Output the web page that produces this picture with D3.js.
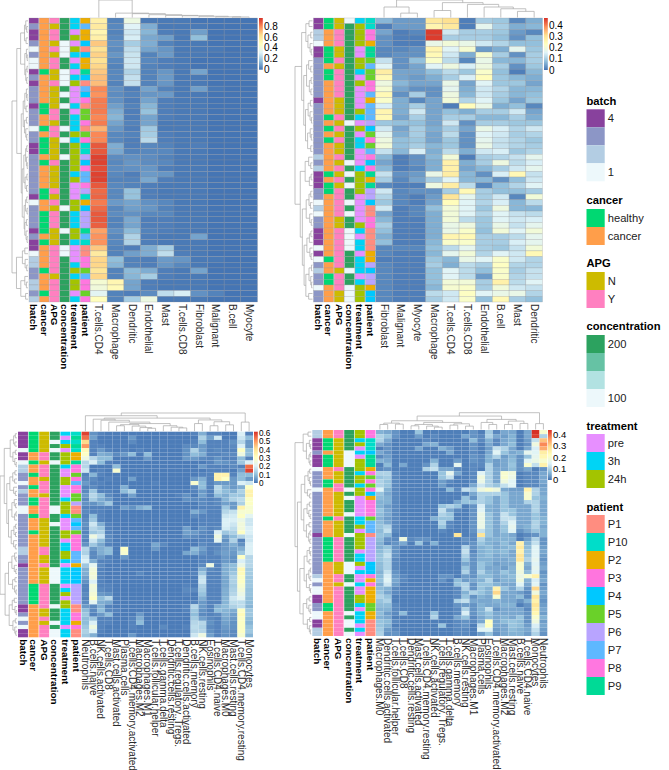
<!DOCTYPE html>
<html>
<head>
<meta charset="utf-8">
<script src="https://cdn.jsdelivr.net/npm/d3@7"></script>
<style>
  html, body { margin: 0; padding: 0; background: #fff; }
  svg { display: block; }
  text { font-family: "Liberation Sans", Arial, sans-serif; }
</style>
</head>
<body>
<div id="chart"></div>
<script>
// annotation categories
const annotationNames = ['batch', 'cancer', 'APG', 'concentration', 'treatment', 'patient'];
const batchLevels = ['1', '2', '3', '4'];
const cancerLevels = ['healthy', 'cancer'];
const apgLevels = ['N', 'Y'];
const concentrationLevels = ['200', '167', '133', '100'];
const treatmentLevels = ['pre', '3h', '24h'];
const patientLevels = ['P1', 'P10', 'P2', 'P3', 'P4', 'P5', 'P6', 'P7', 'P8', 'P9'];

const batchColors = ['#edf8fb', '#b3cde3', '#8c96c6', '#88419d'];
const cancerColors = ['#00d872', '#ff9e4a'];
const apgColors = ['#cdbb00', '#ff80c0'];
const concentrationColors = ['#2ca25f', '#66c2a4', '#b2e2e2', '#edf8fb'];
const treatmentColors = ['#e78fff', '#00d4f5', '#a3c400'];
const patientColors = ['#ff8d80', '#00ddc9', '#edae00', '#ff75de', '#00c8ff', '#6ad129', '#b8a4ff', '#5eb8ff', '#ff77e0', '#00da96'];
const heatPalette = ['#4575b4', '#91bfdb', '#e0f3f8', '#ffffbf', '#fee090', '#fc8d59', '#d73027'];

// top left panel
const p1Cols = ['T.cells.CD4', 'Macrophage', 'Dendritic', 'Endothelial', 'Mast', 'T.cells.CD8', 'Fibroblast', 'Malignant', 'B.cell', 'Myocyte'];
const p1Batch = [4,3,4,4,3,1,3,1,1,4, 3,4,3,3,3,4,3,3,3,1, 3,3,4,4,3,3,3,3,3,3, 3,4,1,3,3,3,3,4,3,4, 4,1,2,2,3,3,2,2,3,2];
const p1Cancer = [1,1,1,1,1,1,1,1,1,0, 1,1,1,1,1,0,0,1,1,0, 1,0,0,0,1,0,1,1,1,1, 0,0,1,1,0,0,0,0,1,0, 1,1,1,1,0,1,1,1,0,1];
const p1Apg = [1,0,1,1,0,1,0,1,1,0, 0,1,0,0,0,0,1,1,0,1, 1,0,0,0,0,1,0,0,0,0, 1,0,1,0,1,1,1,0,0,0, 1,1,1,1,1,0,1,1,1,1];
const p1Conc = [0,0,0,0,3,3,3,0,0,3, 3,3,0,3,0,3,0,0,0,3, 0,3,0,0,3,0,0,0,0,0, 0,0,0,3,0,0,0,3,0,0, 3,3,0,0,0,0,0,0,0,0];
const p1Treatment = [1,1,0,2,0,2,1,0,1,0, 1,2,0,0,0,1,0,1,1,1, 2,1,2,2,2,2,2,1,2,0, 0,0,2,2,1,1,1,2,2,1, 0,0,0,1,2,1,2,2,0,1];
const p1Patient = [2,7,2,2,4,0,4,2,2,9, 4,0,7,4,8,0,5,5,8,0, 5,8,1,1,6,4,8,7,7,8, 6,1,2,4,6,6,6,9,7,1, 0,0,8,8,5,7,8,8,5,8];
const p1Heat = [
  [55,58,52,55,68,62,66,62,65,68, 70,70,80,78,82,82,82,80,82,72, 80,80,88,88,92,92,90,92,92,88, 85,86,82,85,88,88,87,75,78,78, 68,58,65,65,60,65,42,40,33,48],
  [3,4,3,4,6,5,7,4,3,4, 4,3,6,5,6,9,12,14,10,7, 4,4,12,11,5,4,5,4,3,4, 4,4,8,4,5,3,3,6,4,4, 3,3,16,14,3,3,52,50,3,3],
  [38,32,28,30,20,25,27,28,28,22, 26,26,2,3,2,3,2,2,3,2, 3,2,2,3,6,7,6,2,3,3, 17,17,10,9,6,11,10,15,22,22, 2,9,3,3,15,14,10,10,2,20],
  [1,12,14,11,12,10,3,4,3,3, 3,3,10,7,10,14,17,10,10,19, 20,24,4,4,5,5,7,8,11,2, 2,2,6,7,4,2,2,3,2,2, 12,12,2,2,12,20,2,2,5,38],
  [1,1,2,9,3,7,8,2,2,7, 8,7,3,8,2,2,2,2,1,1, 2,2,3,4,3,4,2,7,2,1, 1,1,4,3,4,2,2,2,1,1, 20,25,8,7,2,2,1,1,25,1],
  [1,1,1,1,1,1,1,1,1,1, 1,1,1,1,1,1,1,1,1,1, 1,1,1,1,1,1,1,1,1,1, 1,1,1,1,1,1,1,1,1,1, 1,2,7,4,1,1,1,1,30,1],
  [0,1,9,16,1,1,1,0,0,10, 1,1,9,1,1,1,1,1,1,1, 1,1,2,1,1,1,1,1,1,1, 1,1,1,1,1,1,1,1,10,1, 1,1,1,1,10,1,1,1,6,1],
  [0,0,0,0,0,1,0,0,0,0, 0,0,1,0,0,0,0,0,0,0, 0,0,0,0,0,0,0,0,0,0, 0,0,0,0,0,0,0,0,0,0, 0,0,1,0,0,0,0,0,3,0],
  [0,0,0,0,0,0,0,0,0,0, 0,0,0,0,0,0,0,0,0,0, 0,0,0,0,0,0,0,0,0,0, 0,0,0,0,0,0,0,0,0,0, 0,0,0,0,0,0,0,0,0,0],
  [0,0,0,0,0,0,0,0,0,0, 0,0,0,0,0,0,0,0,0,0, 0,0,0,0,0,0,0,0,0,0, 0,0,0,0,0,0,0,0,0,0, 0,0,0,0,0,0,0,0,0,0]
];
const p1RowTree = [1,
  [.7,
    [.46,[.22,[.14,0,[.08,0,0]],[.12,0,0]],[.2,[.1,0,[.05,0,0]],[.14,[.06,0,0],[.08,0,0]]]],
    [.42,[.3,[.2,[.1,0,[.06,0,0]],[.12,0,0]],[.22,[.1,0,0],[.14,0,[.08,0,0]]]],
      [.36,[.26,[.15,[.08,0,0],[.1,0,[.05,0,0]]],[.18,[.07,0,0],[.09,0,0]]],[.24,[.16,[.08,0,0],[.06,0,0]],[.2,[.1,0,0],[.12,0,[.06,0,0]]]]]]],
  [.72,[.35,[.2,0,0],[.18,0,[.08,0,0]]],[.45,[.2,0,[.1,0,0]],[.15,0,0]]]];
const p1ColTree = [1,0,[.25,0,[.22,0,[.16,0,[.12,0,[.1,0,[.07,0,[.04,0,[.03,0,0]]]]]]]]];

// top right panel
const p2Cols = ['Fibroblast', 'Malignant', 'Myocyte', 'Macrophage', 'T.cells.CD4', 'T.cells.CD8', 'Endothelial', 'B.cell', 'Mast', 'Dendritic'];
const p2Batch = [4,4,2,2,1,4,4,3,3,3, 3,3,3,3,4,3,3,3,3,3, 3,3,3,3,2,3,2,4,4,4, 3,3,1,2,1,3,3,4,4,4, 1,4,1,3,2,3,3,1,3,3];
const p2Cancer = [0,0,1,1,1,0,0,0,1,0, 0,1,1,1,1,1,1,0,1,0, 1,0,1,1,1,1,1,0,1,0, 0,1,1,1,1,1,1,1,1,1, 1,1,0,1,1,0,0,1,1,1];
const p2Apg = [0,0,1,1,1,0,0,1,0,1, 1,1,1,1,0,0,0,1,0,1, 0,1,0,0,1,0,1,0,1,0, 1,1,1,1,1,0,0,1,1,1, 1,1,1,1,0,1,1,1,0,0];
const p2Conc = [3,0,0,0,0,0,0,0,0,0, 0,0,0,0,0,0,0,0,3,0, 0,0,0,0,0,3,0,3,0,3, 0,0,3,0,3,0,0,3,3,3, 3,0,0,0,3,0,0,3,3,3];
const p2Treatment = [1,2,2,2,2,0,0,2,2,1, 0,2,0,0,0,0,2,1,0,2, 0,1,1,0,0,0,1,2,2,2, 2,0,0,0,0,0,2,1,0,1, 1,0,1,1,1,0,1,2,2,2];
const p2Patient = [1,1,8,8,2,9,9,5,7,5, 5,3,8,7,2,7,7,7,6,4, 5,3,5,7,3,4,3,9,2,9, 6,6,4,0,0,3,3,0,0,0, 0,2,2,6,4,6,6,2,4,4];
const p2Heat = [
  [7,1,5,3,3,2,2,13,16,28, 25,19,21,25,22,15,26,25,9,14, 17,19,20,13,7,5,7,13,10,2, 14,11,9,14,5,7,10,8,6,8, 2,2,1,2,2,2,2,2,2,2],
  [4,4,1,1,1,2,3,3,3,5, 5,7,5,3,6,6,6,5,8,5, 6,8,8,7,1,1,1,3,2,1, 2,2,2,1,1,1,1,1,1,1, 2,1,1,1,1,1,1,1,1,1],
  [4,4,2,1,1,3,3,8,5,5, 4,5,3,10,2,10,14,10,8,10, 10,9,10,15,3,3,2,4,5,1, 3,1,1,2,2,1,1,1,1,1, 2,1,1,1,1,1,1,1,1,1],
  [29,26,46,46,18,26,25,22,16,8, 6,5,3,3,5,5,5,5,5,6, 5,5,7,6,7,6,6,18,10,19, 3,4,5,8,6,6,6,6,6,7, 8,7,9,10,8,8,8,7,12,10],
  [31,29,14,10,20,16,14,12,19,12, 10,18,17,19,20,1,8,10,14,10, 12,9,9,12,20,27,27,28,16,28, 10,30,24,20,20,20,18,18,26,22, 12,17,7,6,16,16,20,21,14,14],
  [1,1,10,10,18,21,6,2,15,9, 15,5,6,7,11,24,6,10,3,5, 3,3,3,6,1,6,5,7,7,12, 25,17,16,16,16,12,19,22,25,22, 17,20,18,12,12,12,20,22,23,22],
  [10,17,10,10,14,4,21,18,19,22, 24,16,14,14,16,18,10,7,10,18, 16,17,18,14,10,10,7,3,7,2, 10,10,11,9,11,9,9,8,10,10, 10,11,16,10,8,4,10,10,16,8],
  [9,10,9,8,11,6,10,7,10,8, 9,9,11,10,9,6,10,7,10,15, 14,13,13,15,11,19,10,15,3,8, 8,14,15,19,16,16,18,20,10,10, 9,16,22,23,22,22,27,20,18,25],
  [2,6,4,3,8,17,3,7,3,1, 7,9,7,7,5,8,14,10,9,11, 10,11,11,9,13,12,14,25,8,11, 8,2,7,7,13,14,13,16,12,15, 13,14,14,11,10,11,12,14,18,10],
  [6,7,2,8,8,9,10,10,9,7, 6,5,7,8,9,2,5,6,9,14, 11,9,10,11,17,15,17,13,14,16, 10,20,12,7,12,15,17,20,17,17, 20,25,11,11,13,13,16,13,11,8]
];
const p2RowTree = [1,
  [.62,[.38,[.2,0,0],[.26,[.1,0,0],[.14,0,[.07,0,0]]]],
    [.5,[.34,[.22,0,[.1,0,0]],[.18,[.08,0,0],[.09,0,0]]],[.4,[.25,[.12,0,0],[.14,0,[.06,0,0]]],[.28,[.13,0,[.07,0,0]],[.1,0,0]]]]],
  [.7,[.42,[.22,0,[.1,0,0]],[.18,[.08,0,0],0]],
    [.58,[.36,[.2,[.1,0,0],[.12,0,0]],[.16,0,[.07,0,0]]],
      [.48,[.32,[.18,[.09,0,0],0],[.15,0,[.08,0,0]]],[.38,[.2,[.06,0,0],[.1,0,[.05,0,0]]],[.22,0,0]]]]]];
const p2ColTree = [1,[.6,0,[.25,0,0]],[.85,[.4,0,0],[.75,0,[.6,0,[.5,0,[.35,0,0]]]]]];

// bottom left panel
const p3Cols = ['Neutrophils', 'B.cells.naive', 'NK.cells.activated', 'T.cells.CD8', 'Mast.cells.activated', 'Plasma.cells', 'T.cells.CD4.memory.activated', 'Macrophages.M2', 'Macrophages.M1', 'T.cells.follicular.helper', 'T.cells.gamma.delta', 'Dendritic.cells.resting', 'T.cells.regulatory..Tregs.', 'Dendritic.cells.activated', 'B.cells.memory', 'NK.cells.resting', 'Eosinophils', 'T.cells.CD4.naive', 'Macrophages.M0', 'Mast.cells.resting', 'T.cells.CD4.memory.resting', 'Monocytes'];
const p3Batch = [4,4,4,4,1,4,4,1,2,2, 3,3,1,3,2,3,3,3,1,1, 3,3,3,3,3,3,3,3,2,2, 3,3,4,3,3,3,3,3,3,3, 3,3,4,4,3,1,3,1,4,4];
const p3Cancer = [0,0,0,0,0,1,1,0,1,1, 0,1,1,0,1,1,0,0,1,1, 0,1,1,1,0,1,1,1,1,1, 1,1,1,1,1,1,1,0,0,0, 0,0,1,1,1,1,1,1,1,1];
const p3Apg = [0,0,0,0,0,1,1,0,1,1, 1,0,1,1,1,0,1,1,1,1, 1,0,0,0,0,0,0,0,1,1, 0,0,1,0,0,0,0,1,1,1, 1,1,1,0,0,1,0,1,1,1];
const p3Conc = [0,0,3,0,3,0,0,3,0,0, 0,0,0,0,0,0,0,0,3,3, 0,0,3,0,0,0,0,0,0,0, 0,0,0,3,3,3,3,0,0,0, 0,0,3,0,0,0,3,0,3,3];
const p3Treatment = [1,0,1,2,0,2,2,2,1,0, 0,2,2,0,0,0,1,2,2,2, 1,0,0,0,2,2,0,1,1,2, 2,1,0,1,1,1,1,0,1,2, 0,2,2,1,1,1,1,0,1,1];
const p3Patient = [1,9,1,9,1,2,2,9,3,8, 5,3,7,8,8,5,5,6,0,0, 5,7,4,7,5,3,3,3,3,7, 7,7,2,4,4,4,4,6,6,6, 6,6,0,0,3,3,2,8,0,0];
const p3Heat = [
  [60,55,42,50,33,30,25,15,15,18, 2,3,5,2,3,5,3,4,2,3, 2,3,4,3,2,3,2,4,15,14, 18,20,12,8,8,6,4,2,2,3, 2,3,5,10,12,10,10,12,14,12],
  [4,6,2,2,2,2,15,20,1,1, 9,3,2,3,12,15,13,4,2,2, 10,12,18,15,12,25,18,12,5,3, 3,8,22,26,27,26,20,26,25,27, 30,22,3,3,2,12,20,25,20,8],
  [2,1,1,2,5,8,10,10,1,2, 2,1,2,1,2,10,8,7,2,2, 2,2,8,12,14,18,10,7,8,8, 5,2,3,2,2,2,2,2,3,5, 10,8,8,10,5,2,2,2,2,1],
  [1,1,1,1,2,7,10,2,1,1, 1,2,1,1,2,3,5,12,2,1, 1,1,2,2,2,3,3,2,10,10, 2,2,1,1,1,1,1,2,2,4, 15,7,2,3,10,2,2,1,1,1],
  [1,1,1,1,1,3,1,1,10,28, 1,1,1,1,1,1,1,1,1,1, 1,1,1,1,1,1,1,1,1,1, 1,1,1,1,1,1,1,1,1,1, 1,1,1,2,1,1,1,1,1,1],
  [1,1,1,1,2,5,1,1,1,1, 1,1,1,8,10,1,1,1,6,1, 1,1,1,1,1,1,1,1,30,28, 5,1,1,1,1,1,1,1,1,1, 1,1,1,1,1,1,1,1,1,1],
  [1,5,3,1,1,10,1,1,1,1, 1,6,1,1,14,6,1,1,4,1, 1,1,1,1,1,1,1,1,1,1, 1,1,1,1,1,1,1,1,1,1, 1,1,1,1,1,2,2,2,1,5],
  [1,1,1,1,2,1,1,1,1,1, 1,1,1,1,1,1,1,1,8,1, 1,1,1,1,1,1,1,1,1,1, 1,1,1,1,3,1,1,1,1,1, 1,1,1,1,5,8,10,1,1,1],
  [1,1,1,1,1,10,5,1,1,1, 1,1,1,1,1,1,1,1,10,1, 1,1,1,1,1,1,1,1,1,1, 1,1,1,1,1,1,1,1,1,1, 1,1,1,1,1,1,1,1,1,1],
  [1,1,1,1,1,1,1,1,1,1, 1,1,2,1,1,1,1,1,1,1, 1,1,1,1,1,1,1,7,5,1, 1,1,1,1,1,1,1,1,1,1, 1,1,1,1,1,1,1,1,1,1],
  [1,1,1,1,1,1,1,1,1,1, 1,1,1,1,1,1,1,1,1,1, 1,1,1,1,1,1,1,3,1,1, 1,1,1,1,1,1,1,1,1,1, 1,1,1,1,1,1,1,3,1,1],
  [1,1,1,1,1,1,1,1,1,1, 1,1,1,1,1,1,1,1,1,1, 1,1,1,1,1,1,1,1,1,1, 1,1,1,1,1,1,1,1,1,1, 1,1,1,1,1,1,1,1,1,1],
  [1,1,1,1,1,1,1,1,1,1, 1,1,1,1,1,2,1,1,1,1, 1,1,1,1,1,1,1,1,1,1, 1,1,1,1,1,1,1,1,1,1, 1,1,1,1,1,1,1,1,1,1],
  [1,1,1,3,4,4,5,1,1,1, 1,1,1,1,1,4,4,1,1,1, 1,1,1,6,6,4,1,1,1,7, 1,1,1,1,1,1,1,2,3,2, 1,1,2,2,1,1,1,2,1,1],
  [2,1,2,3,14,10,5,1,1,1, 1,5,28,3,2,1,3,1,1,8, 3,1,1,1,5,3,1,1,10,8, 1,1,1,1,2,1,1,1,3,1, 1,2,15,12,10,13,15,16,15,18],
  [8,14,10,5,6,8,3,1,5,1, 2,8,10,10,5,6,3,3,2,5, 2,2,2,4,3,2,2,3,6,4, 2,2,3,8,12,17,18,14,13,11, 8,5,5,4,3,6,15,14,15,25],
  [2,6,2,2,2,2,2,2,2,2, 2,2,2,2,2,2,2,2,2,2, 2,2,2,2,2,2,2,2,2,2, 2,2,25,3,2,2,2,2,2,2, 2,2,2,2,2,3,4,3,4,6],
  [2,18,2,2,3,2,4,5,2,2, 35,35,5,15,14,10,3,3,2,2, 2,2,2,3,20,25,22,2,3,4, 2,2,2,2,2,2,2,2,2,2, 2,2,8,10,3,2,2,2,2,2],
  [1,1,2,2,2,3,2,4,2,2, 35,30,5,8,10,8,9,6,12,15, 18,20,20,19,12,6,4,5,5,6, 5,5,8,8,8,7,7,7,8,8, 9,9,10,9,8,7,6,5,4,4],
  [1,1,4,3,2,3,2,3,3,1, 2,5,5,5,8,12,14,5,5,17, 19,20,18,16,14,10,14,8,6,5, 4,4,10,10,12,14,14,13,14,15, 18,16,14,8,6,5,4,4,3,3],
  [20,18,15,20,30,25,10,12,2,6, 10,10,20,8,14,12,16,14,35,28, 30,24,26,26,30,15,2,4,8,12, 30,20,24,33,32,30,30,28,26,24, 22,16,16,30,32,30,30,30,30,28],
  [2,10,5,5,10,10,2,20,55,60, 10,5,18,30,35,35,30,30,28,28, 22,18,18,20,20,18,18,20,20,20, 15,15,15,13,13,12,12,12,11,11, 10,10,9,12,12,10,9,11,12,9]
];
const p3RowTree = [1,
  [.75,[.4,[.2,[.1,0,0],[.12,0,0]],[.24,[.1,0,0],[.13,0,[.05,0,0]]]],
    [.6,[.42,[.25,[.12,0,0],[.14,0,0]],[.2,0,[.1,0,0]]],
      [.5,[.3,[.16,0,[.08,0,0]],[.14,[.06,0,0],0]],[.34,[.18,[.08,0,0],[.09,0,0]],[.2,0,[.1,0,0]]]]]],
  [.7,[.5,[.3,[.14,0,[.07,0,0]],[.16,0,[.07,0,0]]],[.26,[.12,0,0],[.14,0,[.06,0,0]]]],
    [.46,[.28,[.16,0,0],[.12,0,[.05,0,0]]],[.24,[.1,0,0],[.13,0,[.07,0,0]]]]]];
const p3ColTree = [1,[.85,0,[.72,[.66,0,[.6,0,[.5,0,[.42,[.36,[.3,0,0],[.28,0,[.2,0,[.16,0,0]]]],[.3,0,[.22,0,[.18,0,0]]]]]]],[.62,[.42,0,0],[.52,[.3,0,0],[.35,0,0]]]]],[.5,0,0]];

// bottom right panel
const p4Cols = ['Macrophages.M0', 'Dendritic.cells.activated', 'T.cells.follicular.helper', 'T.cells.CD8', 'Dendritic.cells.resting', 'Mast.cells.activated', 'T.cells.CD4.memory.resting', 'NK.cells.activated', 'T.cells.regulatory..Tregs.', 'T.cells.gamma.delta', 'B.cells.memory', 'NK.cells.resting', 'Macrophages.M1', 'Plasma.cells', 'Eosinophils', 'T.cells.CD4.memory.activated', 'Macrophages.M2', 'Mast.cells.resting', 'B.cells.naive', 'T.cells.CD4.naive', 'Monocytes', 'Neutrophils'];
const p4Batch = [2,2,4,4,4,3,4,4,4,1, 3,3,3,3,1,3,3,3,3,3, 3,3,3,3,3,4,3,3,3,3, 3,3,3,3,3,2,1,3,1,1, 4,4,3,3,1,1,4,4,2,2];
const p4Cancer = [1,1,0,0,0,1,0,0,0,1, 1,1,0,0,1,1,1,1,1,1, 1,0,1,1,1,1,0,0,0,0, 0,0,1,1,1,1,1,1,1,1, 1,1,0,0,1,1,1,1,1,1];
const p4Apg = [1,1,0,0,0,0,0,0,0,1, 0,0,0,1,1,0,0,0,0,0, 0,1,0,0,0,0,1,1,1,1, 1,1,0,0,0,1,1,0,1,1, 1,1,1,1,1,1,1,1,1,1];
const p4Conc = [0,0,0,0,0,3,3,3,3,0, 0,0,0,0,3,0,3,0,0,0, 3,0,0,0,0,3,0,0,0,0, 0,0,3,3,3,0,0,3,0,0, 0,0,0,0,3,0,3,3,0,3];
const p4Treatment = [2,2,1,2,0,1,0,2,2,2, 1,2,2,1,2,2,0,0,0,0, 0,1,1,2,0,2,2,2,2,0, 1,1,2,0,1,0,0,1,0,0, 2,2,1,0,1,1,1,0,1,0];
const p4Patient = [8,8,1,1,1,4,9,9,9,2, 3,5,3,5,8,4,2,8,8,8, 8,5,7,7,7,0,6,6,6,6, 6,6,4,4,4,3,2,8,2,2, 2,2,5,5,2,2,0,0,0,0];
const p4Heat = [
  [6,10,10,5,1,5,2,6,1,2, 10,8,10,10,15,8,7,6,6,8, 7,6,7,8,7,8,7,6,6,7, 8,8,7,7,6,7,8,6,7,8, 10,8,7,6,7,6,8,8,9,10],
  [5,8,5,3,3,3,4,5,7,3, 10,9,8,8,6,5,6,6,4,5, 5,4,5,10,12,7,3,2,8,10, 12,10,10,10,12,14,15,13,6,5, 8,10,7,6,4,5,7,6,4,3],
  [3,3,1,1,1,1,1,1,1,1, 2,2,2,2,2,2,2,2,2,2, 2,2,2,2,2,1,2,3,3,3, 3,2,2,2,3,4,5,4,2,2, 1,1,2,2,2,1,2,1,2,3],
  [1,1,1,1,1,1,1,1,5,1, 1,1,1,1,1,1,1,1,1,1, 1,1,1,1,1,1,18,5,1,1, 1,1,1,1,1,2,2,1,1,1, 1,1,1,1,7,1,1,1,1,1],
  [1,1,1,1,1,1,1,1,1,1, 1,1,1,1,1,1,1,1,1,1, 1,1,1,1,1,1,2,1,1,1, 1,1,1,1,1,1,1,1,1,1, 1,1,1,1,1,1,1,1,1,1],
  [8,4,1,1,5,1,1,1,1,1, 1,1,1,1,1,1,1,1,1,1, 1,1,1,1,1,1,3,8,1,1, 1,1,1,1,1,1,1,1,1,1, 1,1,1,1,1,1,1,1,1,1],
  [1,1,2,5,1,1,1,1,3,10, 1,1,1,1,1,1,1,1,1,1, 1,1,1,1,1,1,3,1,1,1, 1,1,1,1,1,1,1,1,1,1, 1,1,1,1,1,1,1,1,1,1],
  [1,2,1,6,1,1,1,6,10,12, 1,1,1,1,1,1,1,1,1,1, 1,6,1,1,1,1,1,6,1,1, 1,1,1,1,1,1,1,1,1,1, 1,1,1,1,8,10,1,1,1,1],
  [1,1,1,1,6,1,1,1,1,5, 8,8,4,4,1,1,1,1,8,12, 10,8,10,8,2,1,1,1,1,1, 1,1,1,1,1,3,3,1,1,1, 1,1,1,1,1,1,1,8,1,1],
  [1,1,1,1,4,5,1,1,1,5, 16,12,2,1,7,1,1,1,10,5, 8,8,2,2,1,1,1,1,1,1, 1,1,1,1,1,3,1,1,1,1, 1,1,1,1,1,1,1,1,1,1],
  [1,1,1,1,1,1,1,4,16,2, 5,1,1,1,2,1,1,5,8,2, 1,1,1,1,1,28,1,1,1,1, 1,1,1,1,1,1,7,8,2,2, 2,10,3,2,2,5,2,2,2,2],
  [1,5,1,1,1,1,1,1,1,1, 1,1,1,1,12,1,8,8,1,1, 1,1,1,1,1,1,3,2,10,12, 10,8,5,8,10,4,4,10,10,6, 8,12,4,10,14,8,3,3,2,2],
  [3,3,7,3,3,2,3,3,2,2, 2,2,2,5,10,5,3,8,3,3, 3,3,3,3,3,2,2,3,3,2, 3,3,3,3,3,3,5,3,3,10, 3,5,3,3,3,2,2,1,1,1],
  [1,2,2,1,1,1,2,2,2,1, 15,18,17,13,18,10,10,10,14,15, 17,17,17,17,12,28,10,8,6,6, 6,6,8,8,10,7,6,8,8,8, 6,5,6,6,6,5,5,12,15,4],
  [9,10,6,5,4,5,6,6,10,10, 10,10,10,10,20,10,8,8,6,6, 8,8,8,8,8,8,6,6,7,7, 7,6,6,5,6,7,10,8,6,6, 5,5,5,12,8,7,22,22,15,8],
  [2,5,2,2,12,15,10,4,4,5, 5,5,5,8,18,10,5,5,5,5, 5,5,5,5,5,5,6,5,5,6, 5,5,4,5,5,5,4,6,25,30, 20,6,5,3,5,5,5,5,4,3],
  [5,4,5,5,10,8,4,5,5,5, 20,20,18,12,5,8,8,8,8,8, 12,12,10,8,8,6,6,7,6,7, 6,5,5,4,8,6,6,5,8,5, 5,5,6,5,5,6,7,5,5,5],
  [5,6,6,7,5,5,6,7,8,7, 18,17,15,15,4,5,5,5,5,8, 8,12,15,16,15,5,6,5,7,5, 5,6,5,6,6,7,6,5,5,5, 5,5,6,5,5,5,8,8,7,6],
  [1,1,1,1,1,6,3,3,3,3, 1,1,1,1,4,5,5,5,5,5, 5,5,5,5,3,1,1,25,27,25, 28,28,20,20,18,17,18,15,10,4, 7,3,1,5,5,8,7,7,6,6],
  [5,5,4,3,5,16,8,15,20,5, 2,2,2,2,25,20,20,10,5,5, 5,5,5,6,5,2,4,6,7,8, 8,10,6,5,7,20,6,5,3,2, 2,6,3,2,3,3,3,4,5,4],
  [44,43,12,18,14,15,16,17,12,1, 2,2,2,2,10,10,8,10,10,10, 8,8,10,10,8,3,10,12,15,15, 15,16,15,16,15,25,14,15,30,18, 28,25,28,26,24,20,18,14,12,10],
  [20,10,32,37,34,26,24,20,25,3, 5,5,5,4,5,5,6,5,5,5, 5,6,6,5,6,6,3,3,4,5, 4,3,4,5,3,4,5,3,4,5, 4,3,4,5,4,6,4,5,4,3]
];
const p4RowTree = [1,
  [.5,[.2,0,0],[.3,[.12,0,[.06,0,0]],[.14,[.07,0,0],[.08,0,0]]]],
  [.85,[.62,[.4,[.2,[.1,0,0],[.12,0,[.05,0,0]]],[.24,0,[.1,0,0]]],
      [.46,[.26,[.12,0,0],[.15,0,[.07,0,0]]],[.3,[.14,0,0],[.16,[.08,0,0],[.09,0,0]]]]],
    [.7,[.44,[.26,[.12,0,[.06,0,0]],[.14,0,0]],[.3,[.15,[.06,0,0],[.08,0,0]],[.12,0,[.05,0,0]]]],
      [.5,[.28,[.13,0,0],[.15,0,[.07,0,0]]],[.24,[.1,0,0],[.12,0,[.06,0,0]]]]]]];
const p4ColTree = [1,[.8,[.52,[.38,[.3,0,0],[.32,0,0]],[.42,[.3,[.22,0,0],[.2,0,[.14,0,0]]],[.34,[.26,0,0],[.2,0,0]]]],[.6,[.42,0,[.3,0,0]],[.5,[.3,0,0],[.36,0,0]]]],[.35,0,0]];

// colour bar ticks and limits
const p1Ticks = [0, .2, .4, .6, .8];
const p2Ticks = [0, .1, .2, .3, .4];
const p3Ticks = [0, .1, .2, .3, .4, .5, .6];
const p4Ticks = [0, .1, .2, .3, .4];

const width = 669, height = 770;
const svg = d3.select('#chart').append('svg').attr('width', width).attr('height', height);

const annotationScales = {
  batch: i => batchColors[i - 1],
  cancer: i => cancerColors[i],
  APG: i => apgColors[i],
  concentration: i => concentrationColors[i],
  treatment: i => treatmentColors[i],
  patient: i => patientColors[i]
};

const panels = [
  {cols: p1Cols, heat: p1Heat, anns: [p1Batch, p1Cancer, p1Apg, p1Conc, p1Treatment, p1Patient], rowTree: p1RowTree, colTree: p1ColTree,
   ticks: p1Ticks, max: .95, x0: 29, x1: 90.5, x2: 257.5, y0: 18, y1: 302, dendLeft: 12, dendTop: 0, barX: 259, barBottom: 69.7, grid: true, tickFont: 10},
  {cols: p2Cols, heat: p2Heat, anns: [p2Batch, p2Cancer, p2Apg, p2Conc, p2Treatment, p2Patient], rowTree: p2RowTree, colTree: p2ColTree,
   ticks: p2Ticks, max: .47, x0: 313.5, x1: 375.7, x2: 542.5, y0: 18, y1: 302, dendLeft: 295, dendTop: 0, barX: 544, barBottom: 70, grid: true, tickFont: 10},
  {cols: p3Cols, heat: p3Heat, anns: [p3Batch, p3Cancer, p3Apg, p3Conc, p3Treatment, p3Patient], rowTree: p3RowTree, colTree: p3ColTree,
   ticks: p3Ticks, max: .62, x0: 18, x1: 81.5, x2: 253, y0: 431.7, y1: 637.3, dendLeft: 0, dendTop: 413, barX: 254, barBottom: 483, grid: false, tickFont: 8.2},
  {cols: p4Cols, heat: p4Heat, anns: [p4Batch, p4Cancer, p4Apg, p4Conc, p4Treatment, p4Patient], rowTree: p4RowTree, colTree: p4ColTree,
   ticks: p4Ticks, max: .44, x0: 312.3, x1: 376, x2: 547.3, y0: 430, y1: 636, dendLeft: 295, dendTop: 412.7, barX: 548, barBottom: 480, grid: false, tickFont: 9.5}
];

// walk a nested [height, left, right] tree and collect the elbows
function dendSegments(tree) {
  let leaf = 0;
  const segs = [];
  function walk(node) {
    if (!Array.isArray(node)) { const pos = leaf + .5; leaf += 1; return {pos, h: 0}; }
    const a = walk(node[1]), b = walk(node[2]);
    segs.push({a, b, h: node[0]});
    return {pos: (a.pos + b.pos) / 2, h: node[0]};
  }
  walk(tree);
  return {segs, leaves: leaf};
}

function drawPanel(p, idx) {
  const g = svg.append('g').attr('class', `panel panel-${idx}`);
  const rows = d3.range(p.heat[0].length);

  const yScale = d3.scaleBand().domain(rows).range([p.y0, p.y1]);
  const xHeat = d3.scaleBand().domain(p.cols).range([p.x1, p.x2]);
  const xAnn = d3.scaleBand().domain(annotationNames).range([p.x0, p.x1 - .5]).paddingInner(.06);
  const stops = heatPalette.map((c, i) => p.max * i / (heatPalette.length - 1));
  const color = d3.scaleLinear().domain(stops).range(heatPalette);

  const gridColor = p.grid ? '#8f9296' : '#ffffff';
  const gridOpacity = p.grid ? .5 : .06;

  // annotation tracks
  annotationNames.forEach((name, k) => {
    g.append('g').selectAll('rect')
        .data(p.anns[k])
      .join('rect')
        .attr('x', xAnn(name))
        .attr('y', (d, i) => yScale(i))
        .attr('width', xAnn.bandwidth())
        .attr('height', yScale.bandwidth())
        .attr('fill', d => annotationScales[name](d))
        .attr('stroke', gridColor)
        .attr('stroke-opacity', gridOpacity)
        .attr('stroke-width', .5);

    g.append('text')
        .attr('transform', `translate(${xAnn(name) + xAnn.bandwidth() / 2},${p.y1 + 2}) rotate(90)`)
        .attr('dy', '0.35em')
        .attr('font-size', 9.9)
        .attr('font-weight', 'bold')
        .text(name);
  });

  // heat cells
  p.cols.forEach((col, c) => {
    g.append('g').selectAll('rect')
        .data(p.heat[c])
      .join('rect')
        .attr('x', xHeat(col))
        .attr('y', (d, i) => yScale(i))
        .attr('width', xHeat.bandwidth())
        .attr('height', yScale.bandwidth())
        .attr('fill', d => color(d / 100))
        .attr('stroke', gridColor)
        .attr('stroke-opacity', gridOpacity)
        .attr('stroke-width', .5);

    g.append('text')
        .attr('transform', `translate(${xHeat(col) + xHeat.bandwidth() / 2},${p.y1 + 2}) rotate(90)`)
        .attr('dy', '0.35em')
        .attr('font-size', 10)
        .attr('fill', '#2a2a2a')
        .text(col);
  });

  // row dendrogram
  const rowD = dendSegments(p.rowTree);
  const rowPos = d3.scaleLinear().domain([0, rowD.leaves]).range([p.y0, p.y1]);
  const rowH = d3.scaleLinear().domain([0, 1]).range([p.x0 - 1, p.dendLeft]);
  g.append('g').selectAll('path')
      .data(rowD.segs)
    .join('path')
      .attr('fill', 'none')
      .attr('stroke', '#a8a8a8')
      .attr('stroke-width', .7)
      .attr('d', d => `M${rowH(d.a.h)},${rowPos(d.a.pos)}H${rowH(d.h)}V${rowPos(d.b.pos)}H${rowH(d.b.h)}`);

  // column dendrogram
  const colD = dendSegments(p.colTree);
  const colPos = d3.scaleLinear().domain([0, colD.leaves]).range([p.x1, p.x2]);
  const colH = d3.scaleLinear().domain([0, 1]).range([p.y0 - .5, p.dendTop]);
  g.append('g').selectAll('path')
      .data(colD.segs)
    .join('path')
      .attr('fill', 'none')
      .attr('stroke', '#a8a8a8')
      .attr('stroke-width', .7)
      .attr('d', d => `M${colPos(d.a.pos)},${colH(d.a.h)}V${colH(d.h)}H${colPos(d.b.pos)}V${colH(d.b.h)}`);

  // colour bar
  const gradId = `bar-${idx}`;
  const grad = svg.append('defs').append('linearGradient')
      .attr('id', gradId).attr('x1', 0).attr('x2', 0).attr('y1', 1).attr('y2', 0);
  heatPalette.forEach((c, i) => {
    grad.append('stop').attr('offset', i / (heatPalette.length - 1)).attr('stop-color', c);
  });
  const barY = d3.scaleLinear().domain([0, p.max]).range([p.barBottom, p.y0]);
  g.append('rect')
      .attr('x', p.barX)
      .attr('y', p.y0)
      .attr('width', 3.8)
      .attr('height', p.barBottom - p.y0)
      .attr('fill', `url(#${gradId})`);
  g.append('g').selectAll('text')
      .data(p.ticks)
    .join('text')
      .attr('x', p.barX + 5)
      .attr('y', d => Math.max(barY(d), p.y0 + 1))
      .attr('dy', '0.35em')
      .attr('font-size', p.tickFont)
      .text(d => d);
}

panels.forEach(drawPanel);

// legends on the right
const legendGroups = [
  {title: 'batch', colors: batchColors.slice().reverse(), labels: ['4', '', '', '1'], titleY: 101, top: 109.3},
  {title: 'cancer', colors: cancerColors, labels: cancerLevels, titleY: 200, top: 209},
  {title: 'APG', colors: apgColors, labels: apgLevels, titleY: 263, top: 272},
  {title: 'concentration', colors: concentrationColors, labels: ['200', '', '', '100'], titleY: 326, top: 335},
  {title: 'treatment', colors: treatmentColors, labels: treatmentLevels, titleY: 425.6, top: 434},
  {title: 'patient', colors: patientColors, labels: patientLevels, titleY: 507, top: 515}
];
const legendX = 586.5, legendW = 18.2, legendH = 18;

const legend = svg.selectAll('.legend-group')
    .data(legendGroups)
  .join('g')
    .attr('class', 'legend-group');

legend.append('text')
    .attr('x', legendX)
    .attr('y', d => d.titleY)
    .attr('dy', '0.35em')
    .attr('font-size', 11.2)
    .attr('font-weight', 'bold')
    .text(d => d.title);

legend.each(function(d) {
  const s = d3.select(this);
  const yS = d3.scaleBand().domain(d3.range(d.colors.length)).range([d.top, d.top + legendH * d.colors.length]);
  s.selectAll('rect')
      .data(d.colors)
    .join('rect')
      .attr('x', legendX)
      .attr('y', (c, i) => yS(i))
      .attr('width', legendW)
      .attr('height', yS.bandwidth())
      .attr('fill', c => c);
  s.selectAll('text.lab')
      .data(d.labels)
    .join('text')
      .attr('class', 'lab')
      .attr('x', legendX + legendW + 3)
      .attr('y', (l, i) => yS(i) + yS.bandwidth() / 2)
      .attr('dy', '0.35em')
      .attr('font-size', 11.2)
      .attr('fill', '#222')
      .text(l => l);
});
</script>
</body>
</html>
